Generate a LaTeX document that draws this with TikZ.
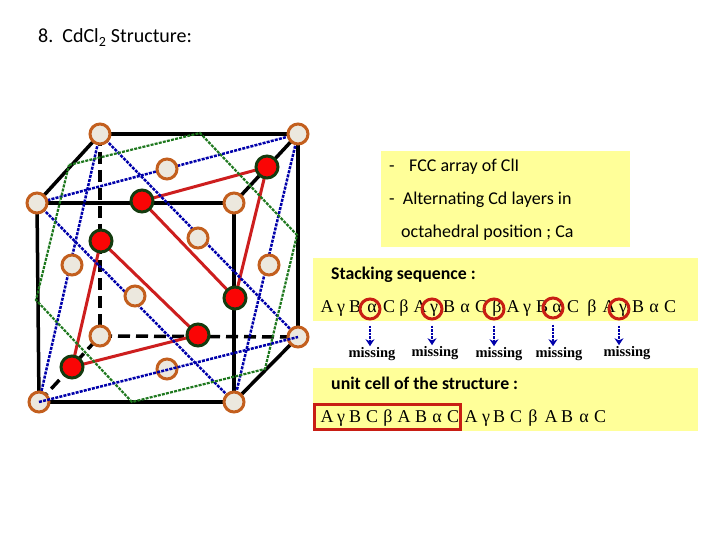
\documentclass[tikz,border=0pt]{standalone}
\usepackage{fontspec}
\setmainfont{Carlito}
\newfontfamily\seqfont{Liberation Serif}
\usetikzlibrary{arrows.meta,backgrounds}
\definecolor{fcc}{RGB}{195,95,30}
\definecolor{fccfill}{RGB}{236,232,222}
\definecolor{cdedge}{RGB}{20,60,15}
\definecolor{cdred}{RGB}{250,5,5}
\definecolor{linered}{RGB}{205,30,30}
\definecolor{lineblue}{RGB}{0,0,170}
\definecolor{linegreen}{RGB}{30,120,30}
\definecolor{panel}{RGB}{255,255,153}
\definecolor{boxred}{RGB}{200,30,20}

\begin{document}
\begin{tikzpicture}[
    x=1pt, y=-1pt,
    cl/.style={circle, draw=fcc, fill=fccfill, line width=3pt, minimum size=20pt, inner sep=0pt},
    cd/.style={circle, draw=cdedge, fill=cdred, line width=3pt, minimum size=22pt, inner sep=0pt},
    edge/.style={line width=3.5pt, black},
    hidden/.style={line width=3.5pt, black, dash pattern=on 12pt off 6pt},
    redln/.style={line width=3pt, linered},
    blueln/.style={line width=2.5pt, lineblue, dash pattern=on 3pt off 1.2pt},
    greenln/.style={line width=2.2pt, linegreen, dash pattern=on 3pt off 1.2pt},
    panelbox/.style={fill=panel, inner sep=0pt, anchor=north west},
    txt/.style={font=\fontsize{18}{20}\selectfont, anchor=base west, inner sep=0pt},
    btxt/.style={font=\fontsize{17.8}{20}\selectfont\bfseries, anchor=base west, inner sep=0pt},
    seq/.style={font=\seqfont\fontsize{18}{20}\selectfont, anchor=base, inner sep=0pt},
    ring/.style={circle, draw=boxred, line width=3pt, minimum size=20pt, inner sep=0pt},
    miss/.style={font=\seqfont\bfseries\fontsize{14.5}{16}\selectfont, inner sep=1pt},
    arr/.style={-{Stealth[length=7pt,width=9pt]}, line width=2.5pt, lineblue, dash pattern=on 2.5pt off 1pt, shorten <=5pt},
]
\useasboundingbox (0,0) rectangle (720,540);

% Title
\node[anchor=base west, inner sep=0pt, font=\fontsize{20}{22}\selectfont] (title) at (38,43) {8.\ \ CdCl\textsubscript{2} Structure:};

% Panels
\node[panelbox, minimum width=249pt, minimum height=96pt] (p1) at (381,151) {};
\node[panelbox, minimum width=385pt, minimum height=63pt] (p2) at (313,258) {};
\node[panelbox, minimum width=385pt, minimum height=63pt] (p3) at (313,368) {};

% Cl sites
\node[cl] (btl) at (100,134) {};
\node[cl] (btr) at (298,134) {};
\node[cl] (ftl) at (37,203) {};
\node[cl] (ftr) at (234,203) {};
\node[cl] (fbl) at (39,402) {};
\node[cl] (fbr) at (234,402) {};
\node[cl] (bbl) at (100,336) {};
\node[cl] (bbr) at (298,337) {};
\node[cl] (ctop) at (167,169) {};
\node[cl] (cfront) at (198,238) {};
\node[cl] (cleft) at (72,265) {};
\node[cl] (cright) at (269,265) {};
\node[cl] (cback) at (135,296) {};
\node[cl] (cbot) at (167,369) {};

% Cd sites
\node[cd] (cd1) at (267,167) {};
\node[cd] (cd2) at (142,201) {};
\node[cd] (cd3) at (235,298) {};
\node[cd] (cd4) at (101,241) {};
\node[cd] (cd5) at (198,335) {};
\node[cd] (cd6) at (72,367) {};

% Green plane corners
\coordinate (g1) at (69,165);
\coordinate (g2) at (200,133);
\coordinate (g3) at (297,235);
\coordinate (g4) at (265,369);
\coordinate (g5) at (132,402);
\coordinate (g6) at (36,300);

\begin{scope}[on background layer]
% Panels go first
\fill[panel] (p1.north west) rectangle (p1.south east);
\fill[panel] (p2.north west) rectangle (p2.south east);
\fill[panel] (p3.north west) rectangle (p3.south east);
% Cube
\draw[hidden] (btl.center) -- (bbl.center);
\draw[hidden] (bbl.center) -- (bbr.center);
\draw[hidden] (fbl.center) -- (bbl.center);
\draw[edge] (btl.center) -- (btr.center);
\draw[edge] (btl.center) -- (ftl.center);
\draw[edge] (btr.center) -- (ftr.center);
\draw[edge] (btr.center) -- (bbr.center);
\draw[edge] (ftl.center) -- (ftr.center);
\draw[edge] (ftr.center) -- (fbr.center);
\draw[edge] (fbr.center) -- (fbl.center);
\draw[edge] (fbl.center) -- (ftl.center);
\draw[edge] (fbr.center) -- (bbr.center);
% Cd layers
\draw[redln] (cd1.center) -- (cd2.center) -- (cd3.center) -- cycle;
\draw[redln] (cd4.center) -- (cd5.center) -- (cd6.center) -- cycle;
% Close packed planes
\draw[blueln] (ftl.center) -- (fbr.center);
\draw[blueln] (fbr.center) -- (btr.center);
\draw[blueln] (btr.center) -- (ftl.center);
\draw[blueln] (btl.center) -- (bbr.center);
\draw[blueln] (btl.center) -- (fbl.center);
\draw[greenln] (g1) -- (g2) -- (g3) -- (g4) -- (g5) -- (g6) -- cycle;
\end{scope}
\draw[blueln] (fbl.center) -- (bbr.center);

% Panel text
\node[txt] (t1) at (389,172) {-\hspace{14.5pt}FCC array of ClI};
\node[txt] (t2) at (389,205) {-\ \ Alternating Cd layers in};
\node[txt] (t3) at (401,237) {octahedral position ; Ca};
\node[btxt] (stack) at (331,279) {Stacking sequence :};
\node[btxt] (unit) at (331,389) {unit cell of the structure :};

% Stacking sequence
\foreach \g/\x [count=\i] in {A/327,γ/341,B/355,α/372,C/389,β/404,A/420,γ/434,B/449,α/465,C/481,β/497,A/513,γ/527,B/542,α/557,C/573,β/592,A/609,γ/623,B/638,α/654,C/670}
    \node[seq] (s\i) at (\x,312) {\g};
\foreach \g/\x [count=\i] in {A/327,γ/341,B/355,C/372,β/388,A/404,B/421,α/437,C/453,A/471,γ/486,B/499,C/516,β/533,A/551,B/567,α/584,C/600}
    \node[seq] (u\i) at (\x,422) {\g};

% Missing layers
\node[ring] (r1) at (370,309) {};
\node[ring] (r2) at (432,309) {};
\node[ring] (r3) at (494,309) {};
\node[ring] (r4) at (553,308) {};
\node[ring] (r5) at (619,309) {};
\node[miss] (m1) at (372,354) {missing};
\node[miss] (m2) at (435,353) {missing};
\node[miss] (m3) at (499,354) {missing};
\node[miss] (m4) at (559,354) {missing};
\node[miss] (m5) at (627,353) {missing};
\draw[arr] (r1.south) -- (r1.south |- m1.north);
\draw[arr] (r2.south) -- (r2.south |- m2.north);
\draw[arr] (r3.south) -- (r3.south |- m3.north);
\draw[arr] (r4.south) -- (r4.south |- m4.north);
\draw[arr] (r5.south) -- (r5.south |- m5.north);

% Unit cell
\node[draw=boxred, line width=3pt, minimum width=146pt, minimum height=25pt, inner sep=0pt, anchor=north west] (cell) at (313,403) {};
\end{tikzpicture}
\end{document}
